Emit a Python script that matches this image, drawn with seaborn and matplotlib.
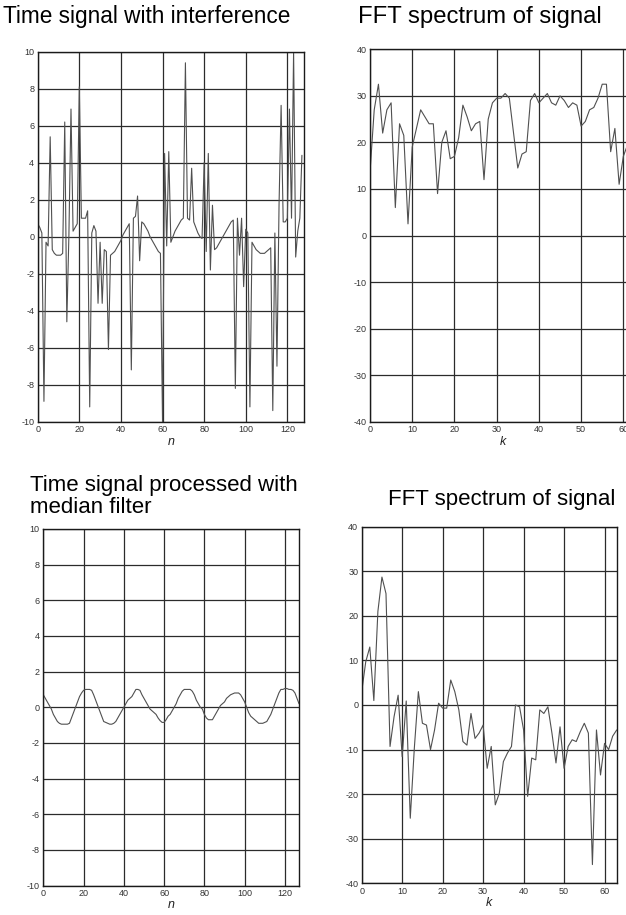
import matplotlib
matplotlib.use("Agg")
import numpy as np
import pandas as pd
import matplotlib.pyplot as plt
import seaborn as sns

# Sampled signal with impulsive interference, n = 0..127
noisy_signal = [
    0.7, 0.5, 0.2, -8.9, -0.3, -0.5, 5.4, -0.7, -0.9, -1.0,
    -1.0, -1.0, -0.9, 6.2, -4.6, 0.1, 6.9, 0.3, 0.5, 0.7,
    8.1, 1.0, 1.0, 1.0, 1.4, -9.2, 0.2, 0.6, 0.3, -3.6,
    -0.3, -3.6, -0.7, -0.8, -6.1, -1.0, -0.9, -0.8, -0.6, -0.4,
    -0.2, 0.1, 0.3, 0.5, 0.7, -7.2, 1.0, 1.1, 2.2, -1.3,
    0.8, 0.7, 0.5, 0.3, 0.0, -0.2, -0.4, -0.6, -0.8, -0.9,
    -10.0, 4.5, -0.5, 4.6, -0.3, 0.0, 0.3, 0.5, 0.7, 0.9,
    1.0, 9.4, 1.0, 0.9, 3.7, 0.8, 0.5, 0.2, 0.0, -0.1,
    4.0, -0.8, 4.5, -1.8, 1.7, -0.7, -0.6, -0.4, -0.2, 0.0,
    0.2, 0.4, 0.6, 0.8, 0.9, -8.2, 1.0, -1.0, 1.0, -2.7,
    0.4, 0.2, -9.2, -0.3, -0.5, -0.7, -0.8, -0.9, -0.9, -0.9,
    -0.8, -0.7, -0.6, -9.4, 0.2, -7.0, 1.7, 7.1, 0.8, 0.8,
    1.0, 6.9, 1.0, 10.0, -1.1, 0.3, 1.0, 4.4,
]

# Same signal after median filtering
filtered_signal = [
    0.7, 0.5, 0.3, 0.1, -0.1, -0.4, -0.6, -0.8, -0.9, -0.95,
    -0.95, -0.95, -0.95, -0.9, -0.6, -0.3, 0.0, 0.3, 0.6, 0.8,
    0.95, 1.0, 1.0, 1.0, 0.95, 0.7, 0.4, 0.1, -0.2, -0.5,
    -0.8, -0.85, -0.9, -0.95, -0.95, -0.9, -0.8, -0.6, -0.4, -0.2,
    0.0, 0.2, 0.4, 0.5, 0.6, 0.8, 1.0, 1.0, 0.95, 0.7,
    0.5, 0.3, 0.1, -0.1, -0.2, -0.3, -0.4, -0.6, -0.75, -0.85,
    -0.85, -0.7, -0.5, -0.4, -0.2, 0.0, 0.2, 0.5, 0.7, 0.9,
    1.0, 1.0, 1.0, 1.0, 0.9, 0.7, 0.4, 0.2, 0.0, -0.1,
    -0.4, -0.6, -0.7, -0.7, -0.7, -0.5, -0.3, -0.1, 0.1, 0.2,
    0.3, 0.5, 0.6, 0.7, 0.75, 0.8, 0.8, 0.8, 0.7, 0.5,
    0.3, 0.0, -0.3, -0.5, -0.6, -0.7, -0.8, -0.9, -0.9, -0.9,
    -0.85, -0.8, -0.6, -0.4, -0.1, 0.2, 0.5, 0.8, 1.0, 1.0,
    1.05, 1.05, 1.0, 1.0, 0.95, 0.8, 0.5, 0.2,
]

# Magnitude spectra in dB, k = 0..63
noisy_spectrum_db = [
    13.6, 27.0, 32.5, 22.0, 27.0, 28.5, 6.0, 24.0, 21.5, 2.5,
    19.0, 23.0, 27.0, 25.5, 24.0, 24.0, 9.0, 20.0, 22.5, 16.5,
    17.0, 21.0, 28.0, 25.5, 22.5, 24.0, 24.5, 12.0, 25.0, 28.5,
    29.5, 29.5, 30.5, 29.5, 22.0, 14.5, 17.5, 18.0, 29.0, 30.5,
    28.5, 29.5, 30.5, 28.5, 28.0, 30.0, 29.0, 27.5, 28.5, 28.0,
    23.5, 24.5, 27.0, 27.5, 29.5, 32.5, 32.5, 18.0, 23.0, 11.0,
    17.0, 19.5, 21.0, 22.0,
]

filtered_spectrum_db = [
    3.0, 9.7, 13.0, 1.0, 21.0, 28.7, 25.0, -9.3, -2.6, 2.2,
    -11.6, 0.9, -25.4, -9.7, 3.0, -4.1, -4.5, -10.0, -5.6, 0.4,
    -0.7, -0.7, 5.6, 3.0, -1.1, -8.2, -9.0, -1.9, -7.5, -6.3,
    -4.5, -14.2, -9.3, -22.4, -19.8, -12.7, -10.8, -9.3, 0.0, -0.4,
    -5.6, -20.5, -11.9, -12.3, -1.1, -1.9, -0.4, -6.3, -13.0, -4.9,
    -14.2, -9.3, -7.8, -8.2, -6.0, -4.1, -6.3, -35.8, -5.6, -15.7,
    -8.6, -10.0, -7.0, -5.6,
]

n = np.arange(len(noisy_signal))
k = np.arange(len(noisy_spectrum_db))
time_df = pd.DataFrame({"n": n, "noisy": noisy_signal, "filtered": filtered_signal})
spec_df = pd.DataFrame({"k": k, "noisy": noisy_spectrum_db, "filtered": filtered_spectrum_db})

sns.set_style("white")
plt.rcParams["font.family"] = ["Liberation Sans", "DejaVu Sans"]
plt.rcParams["axes.unicode_minus"] = False

W, H = 626, 915
fig = plt.figure(figsize=(W / 100, H / 100), dpi=100)
fig.patch.set_facecolor("white")

LINE = "#505050"
GRID = "#2b2b2b"


def panel(left, top, right, bottom):
    return fig.add_axes([left / W, 1 - bottom / H, (right - left) / W, (bottom - top) / H])


def style(ax, xlim, ylim, xticks, yticks, xlabel):
    ax.set_xlim(*xlim)
    ax.set_ylim(*ylim)
    ax.set_xticks(xticks)
    ax.set_yticks(yticks)
    ax.grid(True, color=GRID, linewidth=0.9)
    ax.tick_params(length=0, labelsize=6.5, labelcolor="#333333", pad=2.5)
    for s in ax.spines.values():
        s.set_color("#1a1a1a")
        s.set_linewidth(1.0)
    ax.set_xlabel(xlabel, fontstyle="italic", fontsize=9, color="#222222", labelpad=1)
    ax.set_ylabel("")


# Top left: time signal with interference
ax1 = panel(37.7, 51.7, 304, 421.7)
sns.lineplot(data=time_df, x="n", y="noisy", ax=ax1, color=LINE, linewidth=0.8)
style(ax1, (0, 128), (-10, 10), range(0, 121, 20), range(-10, 11, 2), "n")

# Top right: its spectrum (axes run past the right edge of the page)
ax2 = panel(370, 49.3, 636, 421.7)
sns.lineplot(data=spec_df, x="k", y="noisy", ax=ax2, color=LINE, linewidth=0.8)
style(ax2, (0, 63), (-40, 40), range(0, 61, 10), range(-40, 41, 10), "k")

# Bottom left: median-filtered signal
ax3 = panel(43.3, 529, 299, 885.5)
sns.lineplot(data=time_df, x="n", y="filtered", ax=ax3, color=LINE, linewidth=0.8)
style(ax3, (0, 127), (-10, 10), range(0, 121, 20), range(-10, 11, 2), "n")

# Bottom right: spectrum of the filtered signal
ax4 = panel(361.7, 526.7, 616.7, 883.3)
sns.lineplot(data=spec_df, x="k", y="filtered", ax=ax4, color=LINE, linewidth=0.8)
style(ax4, (0, 63), (-40, 40), range(0, 61, 10), range(-40, 41, 10), "k")

fig.text(3 / W, 1 - 17 / H, "Time signal with interference",
         fontsize=16.3, color="black", va="center", ha="left")
fig.text(358 / W, 1 - 17 / H, "FFT spectrum of signal",
         fontsize=17.2, color="black", va="center", ha="left")
fig.text(30 / W, 1 - 475 / H, "Time signal processed with\nmedian filter",
         fontsize=16, color="black", va="top", ha="left", linespacing=1.08)
fig.text(388 / W, 1 - 499 / H, "FFT spectrum of signal",
         fontsize=16, color="black", va="center", ha="left")

fig.savefig("out.png", dpi=100, facecolor="white")
